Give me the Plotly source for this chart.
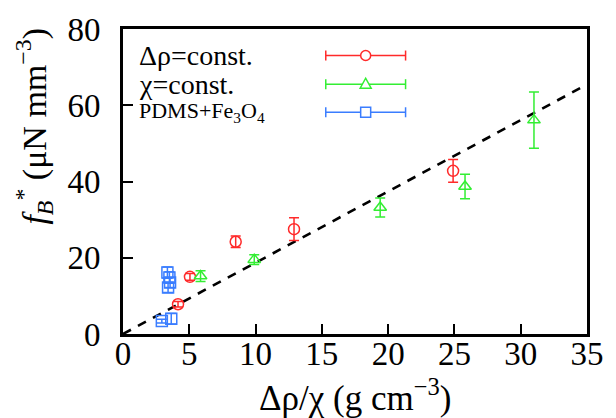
import plotly.graph_objects as go

# ---- data ----
rho_x = [4.15, 5.05, 8.5, 12.9, 24.9]
rho_y = [7.8, 15.0, 24.2, 27.5, 42.8]
rho_err = [0.7, 0.9, 1.5, 3.0, 3.0]

chi_x = [5.85, 9.9, 19.4, 25.8, 31.0]
chi_y = [15.2, 19.5, 33.2, 38.7, 56.1]
chi_err = [1.4, 1.3, 2.5, 3.2, 7.4]

pdms_x = [3.35, 3.5, 3.55, 3.4, 2.93, 3.64]
pdms_y = [16.1, 14.8, 13.5, 12.2, 3.4, 4.0]
pdms_err = [1.5, 1.5, 1.3, 1.3, 0.5, 1.4]

fit_slope = 1.87
fit_x = [0, 35]

series_names = ["Δρ=const.", "χ=const.", "PDMS+Fe<sub>3</sub>O<sub>4</sub>"]
colors = ["#ff2a2a", "#33ee33", "#3a7dff"]
symbols = ["circle-open", "triangle-up-open", "square-open"]

x_ticks = [0, 5, 10, 15, 20, 25, 30, 35]
y_ticks = [0, 20, 40, 60, 80]

FONT = "Liberation Serif, Times New Roman, Times, serif"

fig = go.Figure()

# fit line
fig.add_trace(go.Scatter(
    x=fit_x, y=[fit_slope * v for v in fit_x], mode="lines",
    line=dict(color="black", width=2.6, dash="9px,8px"),
    showlegend=False, hoverinfo="skip"))

for xs, ys, es, col, sym in [
    (rho_x, rho_y, rho_err, colors[0], symbols[0]),
    (chi_x, chi_y, chi_err, colors[1], symbols[1]),
    (pdms_x, pdms_y, pdms_err, colors[2], symbols[2]),
]:
    fig.add_trace(go.Scatter(
        x=xs, y=ys, mode="markers",
        marker=dict(symbol=sym, size=11, color=col, line=dict(width=1.5, color=col)),
        error_y=dict(type="data", array=es, visible=True, color=col,
                     thickness=1.5, width=5),
        showlegend=False))

# ---- manual gnuplot-style key ----
row_y = [0.913, 0.819, 0.727]
key_x0, key_x1, key_xc = 0.437, 0.609, 0.523
text_x = 0.030
font_sizes = [28, 28, 22]
shapes = []
annotations = []
for i in range(3):
    col = colors[i]
    yv = row_y[i]
    shapes.append(dict(type="line", xref="paper", yref="paper",
                       x0=key_x0, x1=key_x1, y0=yv, y1=yv,
                       line=dict(color=col, width=1.5)))
    for xc in (key_x0, key_x1):
        shapes.append(dict(type="line", xref="paper", yref="paper",
                           xsizemode="scaled", ysizemode="pixel",
                           x0=xc, x1=xc, yanchor=yv, y0=-5, y1=5,
                           line=dict(color=col, width=1.5)))
    if i == 0:
        shapes.append(dict(type="circle", xref="paper", yref="paper",
                           xsizemode="pixel", ysizemode="pixel",
                           xanchor=key_xc, yanchor=yv, x0=-5, x1=5, y0=-5, y1=5,
                           fillcolor="white", line=dict(color=col, width=1.5)))
    elif i == 1:
        shapes.append(dict(type="path", xref="paper", yref="paper",
                           xsizemode="pixel", ysizemode="pixel",
                           xanchor=key_xc, yanchor=yv,
                           path="M -5.5 -4 L 5.5 -4 L 0 6 Z",
                           fillcolor="white", line=dict(color=col, width=1.5)))
    else:
        shapes.append(dict(type="rect", xref="paper", yref="paper",
                           xsizemode="pixel", ysizemode="pixel",
                           xanchor=key_xc, yanchor=yv, x0=-5, x1=5, y0=-5, y1=5,
                           fillcolor="white", line=dict(color=col, width=1.5)))
    annotations.append(dict(text=series_names[i], xref="paper", yref="paper",
                            x=text_x, y=yv, xanchor="left", yanchor="middle",
                            showarrow=False,
                            font=dict(family=FONT, size=font_sizes[i], color="black")))

# axis titles
annotations.append(dict(
    text="<i>f</i><sub><i>B</i></sub><sup>*</sup> (μN mm<sup>−3</sup>)",
    xref="paper", yref="paper", x=0, y=0.68, xshift=-89,
    xanchor="center", yanchor="middle", textangle=-90, showarrow=False,
    font=dict(family=FONT, size=34, color="black")))
annotations.append(dict(
    text="Δρ/χ (g cm<sup>−3</sup>)",
    xref="paper", yref="paper", x=0.5, y=0, yshift=-37,
    xanchor="center", yanchor="top", showarrow=False,
    font=dict(family=FONT, size=35, color="black")))

axis_common = dict(
    showline=True, linecolor="black", linewidth=3, mirror=True,
    ticks="inside", ticklen=10, tickwidth=1.5, tickcolor="black",
    showgrid=False, zeroline=False,
    tickfont=dict(family=FONT, size=33, color="black"))

fig.update_layout(
    width=616, height=418, autosize=False,
    margin=dict(l=123, r=22, t=26, b=84),
    paper_bgcolor="white", plot_bgcolor="white",
    font=dict(family=FONT),
    shapes=shapes, annotations=annotations,
    xaxis=dict(range=[0, 35], tickvals=x_ticks, ticklabelstandoff=-12, **axis_common),
    yaxis=dict(range=[0, 80], tickvals=y_ticks, ticklabelstandoff=13, **axis_common),
)

fig.write_html("out.html")
